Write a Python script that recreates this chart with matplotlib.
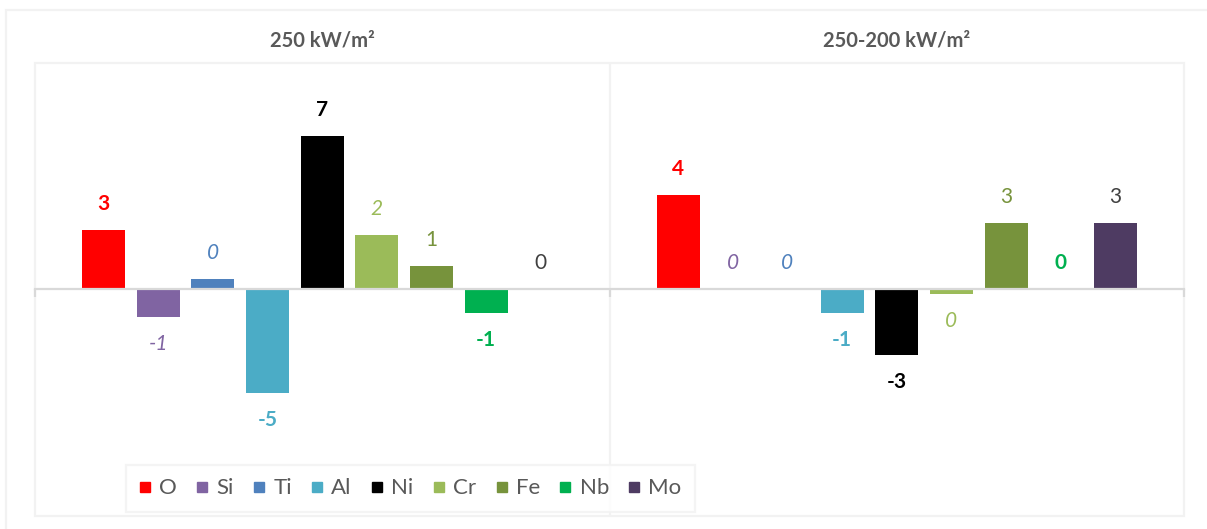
import matplotlib
matplotlib.use("Agg")
import matplotlib.pyplot as plt
from matplotlib.lines import Line2D
from matplotlib.patches import Rectangle

plt.rcParams["font.family"] = ["Lato", "DejaVu Sans"]

# Data
heat_fluxes = ["250 kW/m\u00b2", "250-200 kW/m\u00b2"]
elements = ["O", "Si", "Ti", "Al", "Ni", "Cr", "Fe", "Nb", "Mo"]
change_250 = [2.60, -1.24, 0.46, -4.58, 6.76, 2.38, 1.03, -1.06, 0.0]
change_250_200 = [4.19, 0.0, 0.0, -1.06, -2.89, -0.20, 2.95, 0.0, 2.95]

# Styles per element: bar colour, label colour, label weight, label style
bar_colors = ["#FF0000", "#8064A2", "#4F81BD", "#4BACC6", "#000000",
              "#9BBB59", "#77933C", "#00B050", "#4E3B62"]
label_colors = ["#FF0000", "#8064A2", "#4F81BD", "#4BACC6", "#000000",
                "#9BBB59", "#77933C", "#00B050", "#404040"]
label_weights = ["bold", "normal", "normal", "bold", "bold",
                 "normal", "normal", "bold", "normal"]
label_styles = ["normal", "italic", "italic", "normal", "normal",
                "italic", "normal", "normal", "normal"]

W, H = 1207, 529
fig = plt.figure(figsize=(W / 100, H / 100), dpi=100)

# outer chart border (runs off the right and bottom edges)
fig.patches.append(Rectangle((6 / W, -0.2), 1.2, 1 - 10 / H + 0.2,
                             transform=fig.transFigure, fill=False,
                             ec="#F2F2F2", lw=1.6))

ax_left, ax_right = 35, 1184
ax_top, ax_bot = 63, 515.7
ax = fig.add_axes([ax_left / W, 1 - ax_bot / H,
                   (ax_right - ax_left) / W, (ax_bot - ax_top) / H])
ax.set_xlim(-0.5, 1.5)
ax.set_ylim(-10, 10)

# plot area frame and category separator
ax.add_patch(Rectangle((0, 0), 1, 1, transform=ax.transAxes, fill=False,
                       ec="#F2F2F2", lw=1.6, clip_on=False, zorder=0))
ax.axvline(0.5, color="#F2F2F2", lw=1.6, zorder=0)

for s in ["top", "left", "right"]:
    ax.spines[s].set_visible(False)
ax.spines["bottom"].set_position(("data", 0))
ax.spines["bottom"].set_color("#D9D9D9")
ax.spines["bottom"].set_linewidth(1.6)
ax.spines["bottom"].set_zorder(5)
ax.set_xticks([-0.5, 0.5, 1.5])
ax.set_xticklabels([])
ax.tick_params(axis="x", direction="out", length=5.5, width=1.6,
               color="#D9D9D9")
ax.set_yticks([])

step = 0.0951
width = 0.0748
series = [change_250, change_250_200]
n = len(elements)
for i, el in enumerate(elements):
    xs = [c + (i - (n - 1) / 2) * step for c in range(len(heat_fluxes))]
    vals = [s[i] for s in series]
    ax.bar(xs, vals, width=width, color=bar_colors[i], zorder=3,
           label=el)
    for x, v in zip(xs, vals):
        off = 26 if v >= 0 else -27
        ax.annotate(f"{round(v)}", (x, v), xytext=(0, off),
                    textcoords="offset pixels", ha="center", va="center",
                    fontsize=15, color=label_colors[i],
                    fontweight=label_weights[i], fontstyle=label_styles[i])

# category titles above each panel
for c, name in enumerate(heat_fluxes):
    xfig = (ax_left + (c + 0.5) * (ax_right - ax_left) / 2) / W
    fig.text(xfig, 1 - 40 / H, name, ha="center", va="center",
             fontsize=14.5, fontweight="bold", color="#595959")

handles = [Line2D([], [], marker="s", linestyle="none", markersize=7.5,
                  markerfacecolor=c, markeredgecolor=c) for c in bar_colors]
leg = fig.legend(handles, elements, loc="center",
                 bbox_to_anchor=(410.5 / W, 1 - 488.5 / H), ncol=n,
                 frameon=True, fancybox=False, fontsize=16,
                 handlelength=0.48, handletextpad=0.4, columnspacing=0.9,
                 borderpad=0.6, borderaxespad=0)
leg.get_frame().set_edgecolor("#F2F2F2")
leg.get_frame().set_linewidth(1.6)
for t in leg.get_texts():
    t.set_color("#595959")

fig.savefig("out.png", dpi=100)
